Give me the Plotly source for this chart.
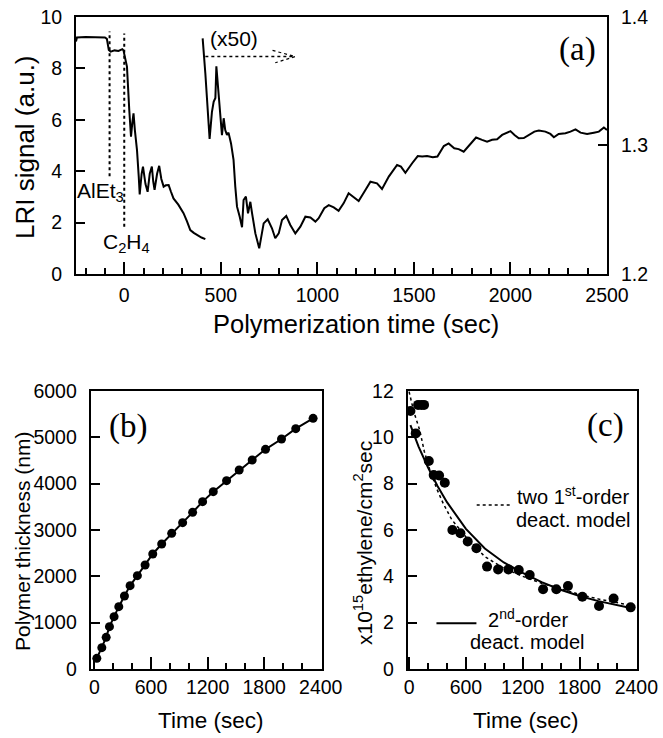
import plotly.graph_objects as go

# ---------------- Panel (a): LRI signal ----------------
seg1_time = [-250, -245, -200, -150, -100, -90, -80, -70, -50, -30, -10, -4, 5, 14, 26, 35, 42, 48,
             55, 66, 75, 80, 90, 97, 110, 121, 132, 143, 150, 157, 170, 181, 192, 204, 215, 230,
             242, 255, 280, 307, 325, 342, 360, 377, 400, 420]
seg1_signal = [9.05, 9.2, 9.22, 9.22, 9.2, 9.15, 8.72, 8.65, 8.7, 8.68, 8.75, 8.7, 8.35, 8.07, 6.38,
               5.34, 5.9, 6.25, 5.6, 4.82, 3.8, 3.1, 3.9, 4.18, 3.5, 3.2, 3.9, 4.18, 3.6, 3.27, 3.9,
               4.21, 3.7, 3.4, 3.45, 3.46, 3.2, 2.94, 2.7, 2.37, 2.05, 1.71, 1.6, 1.52, 1.42, 1.36]

seg2_time = [406, 420, 442, 454, 463, 472, 477, 484, 489, 497, 506, 515, 523, 532, 540, 553, 566, 575,
             584, 598, 610, 618, 630, 641, 653, 662, 679, 699, 722, 743, 765, 782, 800, 817, 839,
             860, 886, 912, 938, 964, 990, 1007, 1036, 1059, 1085, 1110, 1136, 1162, 1188, 1214,
             1249, 1275, 1309, 1335, 1370, 1413, 1433, 1456, 1491, 1520, 1543, 1568, 1598, 1622,
             1655, 1680, 1709, 1732, 1758, 1793, 1822, 1853, 1879, 1905, 1931, 1957, 2000, 2021,
             2043, 2069, 2095, 2124, 2147, 2181, 2207, 2225, 2250, 2285, 2311, 2337, 2363, 2397,
             2432, 2458, 2484, 2500]
seg2_signal = [9.17, 7.8, 5.26, 6.3, 6.7, 6.85, 8.08, 7.42, 7.03, 6.12, 5.4, 6.06, 5.6, 5.41, 5.5,
               5.08, 4.44, 3.4, 2.62, 2.23, 1.82, 2.88, 3.01, 2.36, 2.81, 2.36, 1.58, 1.0, 1.97,
               2.13, 1.78, 1.39, 1.58, 2.1, 2.26, 1.91, 1.58, 1.84, 2.23, 2.2, 2.04, 2.17, 2.56,
               2.68, 2.59, 2.46, 2.75, 3.14, 3.0, 2.84, 3.27, 3.59, 3.53, 3.31, 3.79, 4.24, 4.18,
               3.94, 4.31, 4.59, 4.57, 4.59, 4.54, 4.57, 4.98, 5.08, 4.89, 4.86, 4.76, 5.08, 5.31,
               5.22, 5.15, 5.22, 5.24, 5.41, 5.56, 5.41, 5.28, 5.29, 5.41, 5.54, 5.58, 5.54, 5.45,
               5.32, 5.45, 5.48, 5.54, 5.63, 5.5, 5.45, 5.5, 5.54, 5.7, 5.6]

injection_time = [-76, 0]          # AlEt3, C2H4
injection_top = [9.43, 9.36]
injection_bottom = [3.8, 1.84]

x50_arrow_time = [420, 880]
x50_arrow_level = 8.46
x50_head_time = [768, 886, 782]
x50_head_level = [8.7, 8.46, 8.22]

# ---------------- Panel (b): polymer thickness ----------------
thick_time = [25, 78, 124, 159, 208, 258, 318, 378, 455, 537, 618, 713, 819, 935, 1041, 1147,
              1260, 1401, 1535, 1673, 1814, 1984, 2135, 2319]
thick_nm = [230, 460, 683, 914, 1130, 1345, 1576, 1799, 2014, 2245, 2482, 2698, 2928, 3158, 3381,
            3612, 3827, 4065, 4295, 4511, 4741, 4964, 5187, 5410]

# ---------------- Panel (c): polymerization rate ----------------
rate_time = [14, 70, 95, 130, 158, 208, 260, 317, 377, 457, 542, 619, 711, 823, 940, 1049, 1158,
             1274, 1415, 1555, 1678, 1830, 2006, 2160, 2340]
rate_val = [11.14, 10.17, 11.4, 11.4, 11.4, 8.98, 8.37, 8.35, 8.04, 6.0, 5.86, 5.5, 5.21, 4.42,
            4.3, 4.3, 4.27, 4.06, 3.44, 3.44, 3.58, 3.12, 2.72, 3.04, 2.66]

second_order_time = [14, 100, 200, 300, 400, 500, 600, 800, 1000, 1200, 1400, 1600, 1800, 2000,
                     2200, 2340]
second_order_val = [10.53, 9.6, 8.7, 7.9, 7.2, 6.6, 6.05, 5.2, 4.6, 4.15, 3.75, 3.42, 3.15, 2.93,
                    2.75, 2.63]
two_first_time = [0, 50, 113, 160, 218, 290, 360, 450, 600, 800, 1000, 1200, 1400, 1600, 1800,
                  2000, 2200, 2340]
two_first_val = [11.97, 11.1, 10.3, 9.4, 8.6, 7.8, 7.15, 6.45, 5.7, 4.85, 4.35, 4.0, 3.7, 3.45,
                 3.22, 3.02, 2.85, 2.75]

legend_dot_time = [714, 1094]
legend_dot_level = 7.08
legend_solid_time = [289, 711]
legend_solid_level = 1.97

# ---------------- Figure ----------------
SANS = "Liberation Sans, Arial, sans-serif"
SERIF = "Liberation Serif, Times New Roman, serif"
BLACK = "black"

fig = go.Figure()

# Panel (a)
fig.add_trace(go.Scatter(x=seg1_time, y=seg1_signal, mode="lines",
                         line=dict(color=BLACK, width=2), xaxis="x", yaxis="y", hoverinfo="skip"))
fig.add_trace(go.Scatter(x=seg2_time, y=seg2_signal, mode="lines",
                         line=dict(color=BLACK, width=2), xaxis="x", yaxis="y", hoverinfo="skip"))
for t, top, bot in zip(injection_time, injection_top, injection_bottom):
    fig.add_trace(go.Scatter(x=[t, t], y=[bot, top], mode="lines",
                             line=dict(color=BLACK, width=2, dash="dot"), xaxis="x", yaxis="y",
                             hoverinfo="skip"))
fig.add_trace(go.Scatter(x=x50_arrow_time, y=[x50_arrow_level] * 2, mode="lines",
                         line=dict(color=BLACK, width=1.5, dash="dot"), xaxis="x", yaxis="y",
                         hoverinfo="skip"))
fig.add_trace(go.Scatter(x=x50_head_time, y=x50_head_level, mode="lines",
                         line=dict(color=BLACK, width=1.2, dash="dot"), xaxis="x", yaxis="y",
                         hoverinfo="skip"))
# right-hand (x50) scale axis
fig.add_trace(go.Scatter(x=[], y=[], xaxis="x", yaxis="y2", showlegend=False))

# Panel (b)
fig.add_trace(go.Scatter(x=thick_time, y=thick_nm, mode="lines+markers",
                         line=dict(color=BLACK, width=2),
                         marker=dict(color=BLACK, size=9), xaxis="x2", yaxis="y3",
                         hoverinfo="skip"))

# Panel (c)
fig.add_trace(go.Scatter(x=two_first_time, y=two_first_val, mode="lines",
                         line=dict(color=BLACK, width=1.5, dash="dot"), xaxis="x3", yaxis="y4",
                         hoverinfo="skip"))
fig.add_trace(go.Scatter(x=second_order_time, y=second_order_val, mode="lines",
                         line=dict(color=BLACK, width=2), xaxis="x3", yaxis="y4", hoverinfo="skip"))
fig.add_trace(go.Scatter(x=rate_time, y=rate_val, mode="markers",
                         marker=dict(color=BLACK, size=10), xaxis="x3", yaxis="y4",
                         hoverinfo="skip"))
fig.add_trace(go.Scatter(x=legend_dot_time, y=[legend_dot_level] * 2, mode="lines",
                         line=dict(color=BLACK, width=1.5, dash="dot"), xaxis="x3", yaxis="y4",
                         hoverinfo="skip"))
fig.add_trace(go.Scatter(x=legend_solid_time, y=[legend_solid_level] * 2, mode="lines",
                         line=dict(color=BLACK, width=2), xaxis="x3", yaxis="y4",
                         hoverinfo="skip"))

tickfont = dict(family=SANS, size=19.5, color=BLACK)


def xax(domain, anchor, rng, tickvals, minor_dtick, standoff):
    return dict(domain=domain, anchor=anchor, range=rng, tickvals=tickvals,
                ticks="inside", ticklen=12, tickwidth=1.5, tickcolor=BLACK,
                showline=True, linecolor=BLACK, linewidth=2, mirror=True,
                showgrid=False, zeroline=False, tickfont=tickfont, automargin=False,
                ticklabelstandoff=standoff,
                minor=dict(dtick=minor_dtick, tick0=0, ticks="inside", ticklen=6,
                           tickwidth=1.5, tickcolor=BLACK, showgrid=False))


def yax(domain, anchor, rng, dtick):
    return dict(domain=domain, anchor=anchor, range=rng, dtick=dtick, tick0=0,
                ticks="inside", ticklen=9, tickwidth=1.5, tickcolor=BLACK,
                showline=True, linecolor=BLACK, linewidth=2, mirror=True, automargin=False,
                showgrid=False, zeroline=False, tickfont=tickfont, ticklabelstandoff=8)


dom_xa = [0.1146, 0.9155]
dom_ya = [0.6287, 0.977]
dom_xb = [0.1368, 0.4852]
dom_xc = [0.6149, 0.9612]
dom_ybc = [0.0935, 0.4702]

ya = yax(dom_ya, "x", [0, 10], 2)
ya["mirror"] = False
fig.update_layout(
    width=663, height=738,
    margin=dict(l=0, r=0, t=0, b=0, autoexpand=False),
    paper_bgcolor="white", plot_bgcolor="white",
    showlegend=False, hovermode=False,
    font=dict(family=SANS, color=BLACK),
    xaxis=xax(dom_xa, "y", [-250, 2500], [0, 500, 1000, 1500, 2000, 2500], 100, 3),
    yaxis=ya,
    yaxis2=dict(overlaying="y", side="right", anchor="x", range=[1.2, 1.4],
                tickvals=[1.2, 1.3, 1.4], ticktext=["1.2", "1.3", "1.4"],
                ticks="inside", ticklen=9, tickwidth=1.5, tickcolor=BLACK,
                showline=True, linecolor=BLACK, linewidth=2, showgrid=False, automargin=False,
                zeroline=False, tickfont=tickfont, ticklabelstandoff=8),
    xaxis2=xax(dom_xb, "y3", [-40, 2410], [0, 600, 1200, 1800, 2400], 200, 0),
    yaxis3=yax(dom_ybc, "x2", [0, 6000], 1000),
    xaxis3=xax(dom_xc, "y4", [-15, 2410], [0, 600, 1200, 1800, 2400], 200, 0),
    yaxis4=yax(dom_ybc, "x3", [0, 12], 2),
)

TITLE_A = dict(family=SANS, size=25.5, color=BLACK)
TITLE_BC = dict(family=SANS, size=22.5, color=BLACK)
LBL = dict(family=SANS, size=21, color=BLACK)
PANEL = dict(family=SERIF, size=33, color=BLACK)
LEG = dict(family=SANS, size=20, color=BLACK)

annotations = [
    # axis titles
    dict(text="Polymerization time (sec)", xref="paper", yref="paper", x=356 / 663,
         y=1 - 324 / 738, showarrow=False, font=TITLE_A, xanchor="center", yanchor="middle"),
    dict(text="LRI signal (a.u.)", xref="paper", yref="paper", x=25 / 663, y=1 - 147 / 738,
         showarrow=False, font=dict(family=SANS, size=26, color=BLACK), textangle=-90,
         xanchor="center", yanchor="middle"),
    dict(text="Polymer thickness (nm)", xref="paper", yref="paper", x=22 / 663, y=1 - 542 / 738,
         showarrow=False, font=dict(family=SANS, size=21, color=BLACK), textangle=-90,
         xanchor="center", yanchor="middle"),
    dict(text="Time (sec)", xref="paper", yref="paper", x=210 / 663, y=1 - 720 / 738,
         showarrow=False, font=TITLE_BC, xanchor="center", yanchor="middle"),
    dict(text="Time (sec)", xref="paper", yref="paper", x=525 / 663, y=1 - 720 / 738,
         showarrow=False, font=TITLE_BC, xanchor="center", yanchor="middle"),
    dict(text="x10<sup>15</sup>ethylene/cm<sup>2</sup>sec", xref="paper", yref="paper",
         x=363 / 663, y=1 - 543 / 738, showarrow=False,
         font=dict(family=SANS, size=21, color=BLACK), textangle=-90,
         xanchor="center", yanchor="middle"),
    # panel (a) labels
    dict(text="(a)", xref="x", yref="y", x=2347, y=8.72, showarrow=False, font=PANEL),
    dict(text="(x50)", xref="x", yref="y", x=432, y=9.15, showarrow=False, font=LBL,
         xanchor="left"),
    dict(text="AlEt<sub>3</sub>", xref="x", yref="y", x=-124, y=3.2, showarrow=False, font=LBL),
    dict(text="C<sub>2</sub>H<sub>4</sub>", xref="x", yref="y", x=12, y=1.22, showarrow=False,
         font=LBL),
    # panel (b)
    dict(text="(b)", xref="x2", yref="y3", x=360, y=5230, showarrow=False, font=PANEL),
    # panel (c)
    dict(text="(c)", xref="x3", yref="y4", x=2078, y=10.53, showarrow=False, font=PANEL),
    dict(text="two 1<sup>st</sup>-order", xref="x3", yref="y4", x=1733, y=7.5, showarrow=False,
         font=LEG),
    dict(text="deact. model", xref="x3", yref="y4", x=1733, y=6.43, showarrow=False, font=LEG),
    dict(text="2<sup>nd</sup>-order", xref="x3", yref="y4", x=1254, y=2.2, showarrow=False,
         font=LEG),
    dict(text="deact. model", xref="x3", yref="y4", x=1254, y=1.18, showarrow=False, font=LEG),
]
fig.update_layout(annotations=annotations)

fig.write_html("out.html", config={"displayModeBar": False},
               post_script="document.body.style.margin='0px';document.body.style.padding='0px';")
